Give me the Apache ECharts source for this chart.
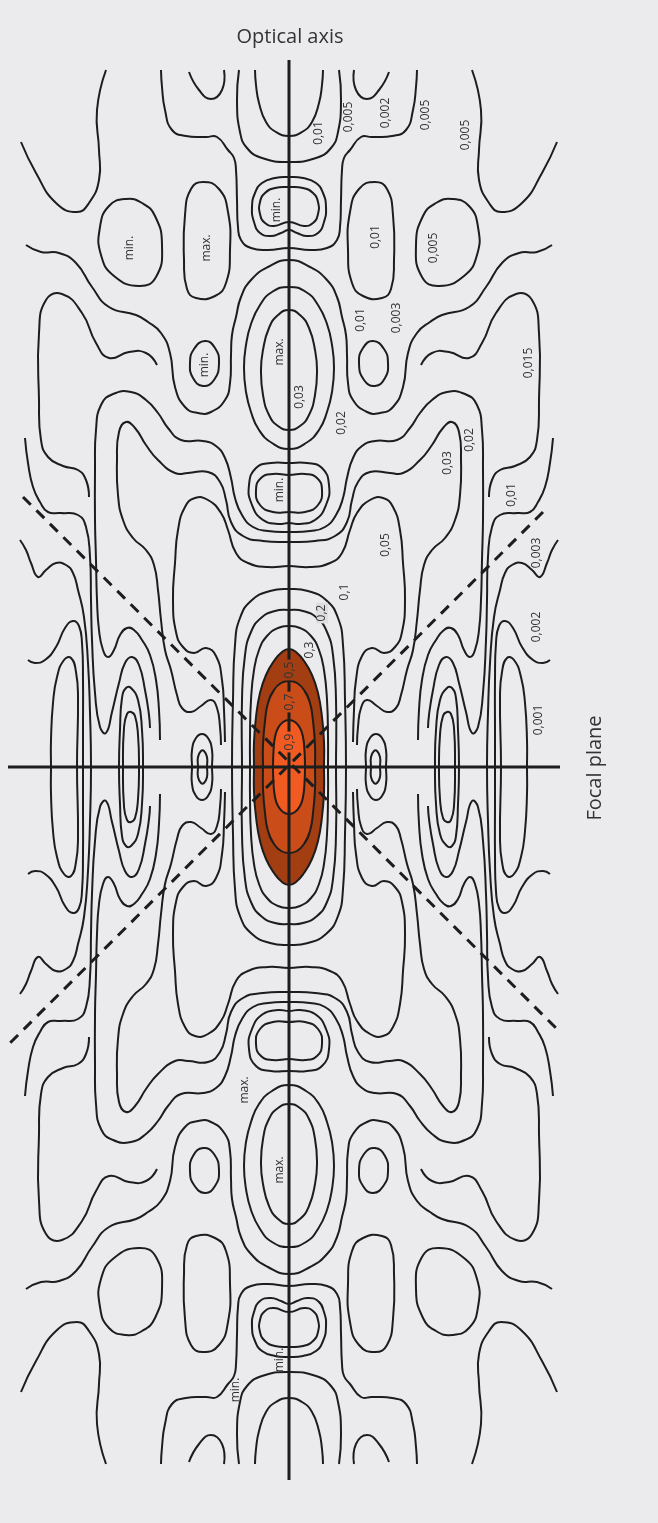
<!DOCTYPE html>
<html><head><meta charset="utf-8">
<script src="https://cdn.jsdelivr.net/npm/echarts@6/dist/echarts.min.js"></script>
<style>html,body{margin:0;padding:0;background:#ebebed;}#c{width:658px;height:1523px;}</style>
</head><body><div id="c"></div>
<script>
// ---- data: contour lines of one quadrant (radial distance v, axial distance u), mirrored by symmetry ----
// orange intensity regions (0,5 / 0,7 / 0,9)
const fill05 = [[0,118],[7,115],[15,106],[23,92],[29,74],[33,50],[35,25],[35,0]];
const fill07 = [[0,86],[8,84],[15,77],[21,64],[24,46],[26,22],[26,0]];
const fill09 = [[0,47],[6,45],[11,39],[14,30],[15.5,16],[16,0]];
// isophotes
const uArc01 = [[0,631],[13,635],[23,645],[30,664],[33,682],[34,697]];
const uArc005 = [[0,605],[27,609],[42,619],[49,635],[52,667],[50,697]];
const minTopOuter = [[0,590],[14,589],[27,584],[34,574],[37,560],[35,545],[29,534],[18,531],[8,534],[0,537]];
const minTopInner = [[0,580],[14,579],[24,574],[29,565],[29,553],[24,544],[15,541],[0,545]];
const arc005b = [[0,519],[21,517],[38,519],[48,527],[51,540],[52,567],[53,597],[55,609],[61,617],[72,630],[83,630],[103,631],[117,637],[124,657],[127,680],[128,697]];
const cup002 = [[65,697],[67,677],[78,668],[90,677],[100,695]];
const wave005 = [[183,697],[192,657],[190,617],[190,587],[200,564],[212,555],[233,564],[253,594],[268,625]];
const oval01 = [[86,585],[98,578],[104,552],[105,507],[102,478],[93,469],[74,471],[63,484],[59,517],[61,555],[70,578]];
const oval005 = [[163,568],[180,561],[189,540],[188,512],[175,491],[150,481],[133,490],[127,522],[134,551],[147,564]];
const maxInner = [[0,457],[11,452],[20,439],[26,417],[28,397],[26,372],[20,352],[11,341],[0,337]];
const maxOuter = [[0,480],[17,475],[29,462],[38,443],[43,422],[45,399],[43,375],[38,355],[30,337],[17,324],[0,318]];
const arc01 = [[0,507],[21,500],[38,487],[48,470],[53,450],[57,432],[58,412],[59,384],[64,367],[78,355],[91,354],[104,360],[114,380],[119,414],[128,434],[141,445],[153,452],[180,460],[197,480],[213,504],[230,514],[248,515],[263,522]];
const ringSmall = [[84,426],[95,418],[99,404],[96,389],[86,381],[75,387],[70,404],[74,419]];
const arc015 = [[132,402],[143,414],[160,415],[180,409],[193,424],[207,454],[227,473],[243,467],[250,434],[250,367],[248,327],[241,310],[226,301],[211,297],[203,287],[200,270]];
const minLowInner = [[0,292],[16,293],[28,289],[33,277],[29,262],[16,255],[0,255]];
const minLowOuter = [[0,304],[18,304],[33,299],[40,282],[37,262],[26,247],[11,243],[0,244]];
const arc02 = [[0,235],[21,236],[36,240],[47,252],[54,269],[58,289],[64,309],[73,321],[86,326],[108,327],[121,339],[131,354],[143,367],[158,375],[176,373],[188,362],[193,337],[194,297],[194,247],[193,207],[192,167],[190,137],[186,117],[181,110],[175,117],[169,132],[162,139],[155,137],[147,127],[139,112],[133,87],[130,57],[129,27]];
const arc03 = [[0,225],[26,226],[46,231],[58,245],[63,267],[69,285],[81,295],[101,294],[114,294],[131,307],[143,322],[154,339],[163,345],[170,335],[172,307],[171,272],[166,247],[156,229],[143,217],[135,202],[131,177],[128,147],[124,117],[118,97],[112,72],[107,59],[98,55],[88,61],[78,67],[72,59],[69,40],[68,22]];
const lobe005 = [[0,201],[21,200],[41,204],[53,214],[61,237],[68,254],[81,267],[94,269],[104,260],[111,237],[114,204],[116,167],[113,135],[106,120],[95,114],[83,119],[73,111],[67,87],[65,57],[64,25]];
const iso01 = [[0,178],[19,176],[37,167],[49,149],[54,122],[56,67],[57,0]];
const iso02 = [[0,157],[14,156],[28,149],[38,135],[44,112],[47,67],[47,0]];
const iso03 = [[0,141],[11,139],[22,131],[30,117],[35,97],[38,67],[39,30],[39,0]];
const ringAOut = [[77,0],[77,17],[81,29],[87,33],[93,29],[97,17],[97,0]];
const ringAIn = [[82,0],[82,10],[85,16],[88,16],[91,10],[91,0]];
const ringBOut = [[146,0],[147,37],[151,67],[158,79],[163,79],[167,69],[169,37],[170,0]];
const ringBIn = [[150,0],[151,32],[154,51],[158,55],[162,53],[165,39],[166,0]];
const wig001 = [[264,329],[261,304],[256,280],[249,265],[241,255],[228,254],[211,252],[203,240],[199,210],[198,167],[197,127],[194,74],[189,40],[183,34],[177,55],[170,84],[164,104],[157,110],[150,102],[144,77],[140,52],[139,39]];
const iso003 = [[269,227],[263,217],[258,204],[251,190],[243,197],[233,204],[223,202],[216,194],[211,177],[205,150],[201,104],[199,54],[198,0]];
const iso002 = [[261,107],[254,104],[244,107],[233,120],[224,139],[216,146],[210,141],[207,124],[206,87],[206,40],[206,0]];
const iso001 = [[212,0],[211,70],[213,95],[218,109],[225,107],[232,90],[236,64],[238,27],[238,0]];
// axes and shadow boundaries
const opticalAxis = [[0,707],[0,-713]];
const focalPlane = [[-281,0],[271,0]];
const boundaryA = [[-266,270],[270,-264]];
const boundaryB = [[254,255],[-284,-281]];
// labels: text, v, u
const labels = [
 ['0,01',30,634],['0,005',60,650],['0,002',97,654],['0,005',137,652],['0,005',177,632],
 ['0,01',87,530],['0,005',145,519],['0,01',72,447],['0,003',108,449],['0,015',240,404],
 ['min.',-12,557],['min.',-159,519],['max.',-82,519],['min.',-84,402],['max.',-9,415],
 ['0,03',11,370],['0,02',53,344],['min.',-9,277],['0,05',97,222],['0,1',56,175],
 ['0,2',33,154],['0,3',21,117],['0,5',1,97],['0,7',1,65],['0,9',1,25],
 ['0,03',159,304],['0,02',181,327],['0,01',223,272],['0,003',248,214],['0,002',248,140],['0,001',250,47],
 ['max.',-44,-323],['max.',-9,-403],['min.',-9,-593],['min.',-53,-623]
];
const labelBg = {'0,5':'#A33E12','0,7':'#CA4C19','0,9':'#F15B22','0,2':'#dedee0'};
const titles = [['Optical axis',1,730,0],['Focal plane',306,-1,1]];

const LINE = '#1d1d1d';
const fillSpec = [['AF',fill05,'#A33E12'],['AF',fill07,'#CA4C19'],['AF',fill09,'#F15B22']];
const contourSpec = [
 ['A-',uArc01],['A-',uArc005],['A',minTopOuter],['A',minTopInner],['A-',arc005b],['O',cup002],['O',wave005],
 ['C',oval01],['C',oval005],['A',maxInner],['A',maxOuter],['A-',arc01],['C',ringSmall],['O',arc015],
 ['A',minLowInner],['A',minLowOuter],['A-',arc02],['A-',arc03],['A-',lobe005],
 ['AF',iso01],['AF',iso02],['AF',iso03],['F',ringAOut],['F',ringAIn],['F',ringBOut],['F',ringBIn],
 ['O',wig001],['F-',iso003],['F-',iso002],['F',iso001]
];

const mx = p => [-p[0], p[1]];
const my = p => [p[0], -p[1]];
const rev = a => a.slice().reverse();
function build(type, pts) {
  const out = [];
  if (type === 'A') {
    const loop = pts.concat(rev(pts).slice(1, -1).map(mx));
    out.push({p: loop, c: true}, {p: loop.map(my), c: true});
  } else if (type === 'AF') {
    const half = rev(pts).slice(0, -1).map(mx).concat(pts);
    out.push({p: half.concat(rev(half).slice(1, -1).map(my)), c: true});
  } else if (type === 'A-') {
    const line = rev(pts).map(mx).concat(pts.slice(1));
    out.push({p: line, c: false}, {p: line.map(my), c: false});
  } else if (type === 'F') {
    const loop = pts.concat(rev(pts).slice(1, -1).map(my));
    out.push({p: loop, c: true}, {p: loop.map(mx), c: true});
  } else if (type === 'F-') {
    const line = pts.concat(rev(pts).slice(1).map(my));
    out.push({p: line, c: false}, {p: line.map(mx), c: false});
  } else {
    const c = type === 'C';
    [pts, pts.map(mx), pts.map(my), pts.map(q => [-q[0], -q[1]])].forEach(q => out.push({p: q, c}));
  }
  return out;
}
const fills = [];
fillSpec.forEach(([t, pts, col]) => build(t, pts).forEach(s => { s.fill = col; fills.push(s); }));
const shapes = [];
contourSpec.forEach(([t, pts]) => build(t, pts).forEach(s => shapes.push(s)));

function shapeRenderer(list, lw) {
  return function (params, api) {
    const s = list[params.dataIndex];
    return {
      type: s.c ? 'polygon' : 'polyline',
      shape: {points: s.p.map(q => api.coord(q)), smooth: 0.5},
      style: {fill: s.fill || 'none', stroke: LINE, lineWidth: lw},
      silent: true
    };
  };
}
const allText = labels.map(l => ({t: l[0], x: l[1], y: l[2], rot: 1, size: 12, bg: labelBg[l[0]]}))
  .concat(titles.map(t => ({t: t[0], x: t[1], y: t[2], rot: t[3], size: 20})));

const chart = echarts.init(document.getElementById('c'), null, {renderer: 'canvas'});
chart.setOption({
  animation: false,
  backgroundColor: '#ebebed',
  grid: {left: 0, right: 0, top: 0, bottom: 0},
  xAxis: {type: 'value', min: -289, max: 369, show: false, splitLine: {show: false}},
  yAxis: {type: 'value', min: -756, max: 767, show: false, splitLine: {show: false}},
  series: [
    {type: 'custom', coordinateSystem: 'cartesian2d', z: 1, clip: false, encode: {x: 0, y: 1},
     data: fills.map(s => s.p[0]), renderItem: shapeRenderer(fills, 2)},
    {type: 'custom', coordinateSystem: 'cartesian2d', z: 2, clip: false, encode: {x: 0, y: 1},
     data: shapes.map(s => s.p[0]), renderItem: shapeRenderer(shapes, 2)},
    {type: 'line', data: opticalAxis, symbol: 'none', z: 3, silent: true, lineStyle: {color: LINE, width: 3}},
    {type: 'line', data: focalPlane, symbol: 'none', z: 3, silent: true, lineStyle: {color: LINE, width: 3}},
    {type: 'line', data: boundaryA, symbol: 'none', z: 3, silent: true, lineStyle: {color: LINE, width: 3, type: [11, 8]}},
    {type: 'line', data: boundaryB, symbol: 'none', z: 3, silent: true, lineStyle: {color: LINE, width: 3, type: [11, 8]}},
    {type: 'custom', coordinateSystem: 'cartesian2d', z: 4, clip: false, encode: {x: 0, y: 1},
     data: allText.map(o => [o.x, o.y]),
     renderItem: function (params, api) {
       const o = allText[params.dataIndex];
       const pt = api.coord([o.x, o.y]);
       return {
         type: 'text', x: pt[0], y: pt[1], rotation: o.rot ? Math.PI / 2 : 0, silent: true,
         style: {text: o.t, fill: '#333', font: o.size + 'px "Open Sans", "Noto Sans", sans-serif',
                 align: 'center', verticalAlign: 'middle',
                 backgroundColor: o.bg || 'transparent', padding: o.bg ? [0, 2] : 0}
       };
     }}
  ]
});
</script></body></html>
